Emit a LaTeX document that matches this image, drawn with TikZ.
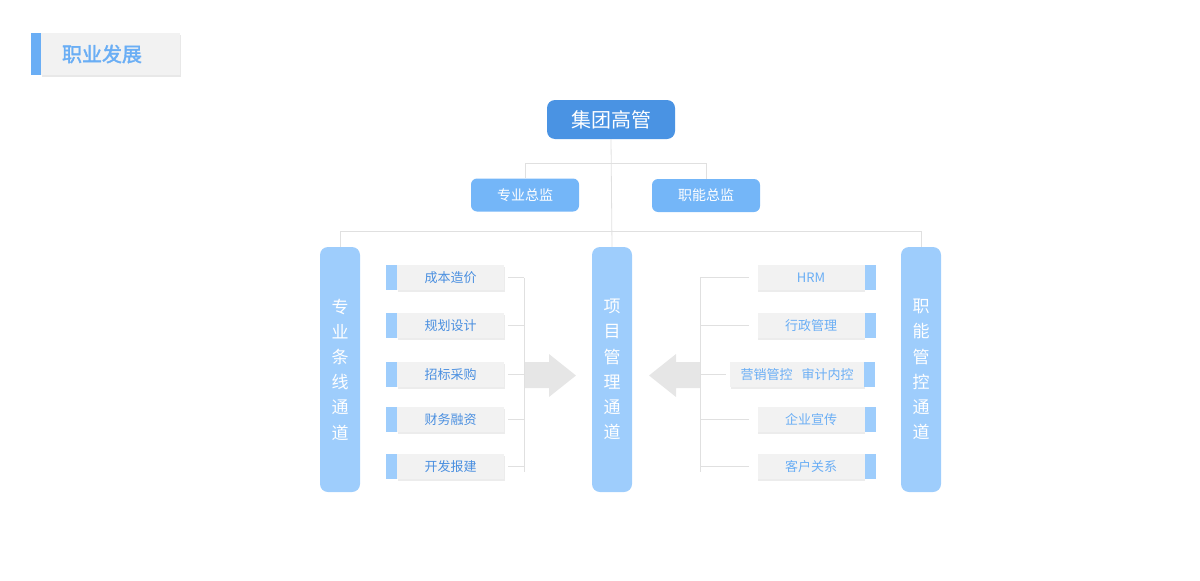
\documentclass[tikz,border=0pt]{standalone}
\usepackage{fontspec}
\newfontfamily\cjk{Noto Sans CJK SC}[AutoFakeBold=2]
\usetikzlibrary{positioning,shadows,calc}

\definecolor{bossblue}{HTML}{4A93E3}
\definecolor{headblue}{HTML}{74B6F8}
\definecolor{barblue}{HTML}{9ECDFC}
\definecolor{tabblue}{HTML}{9ECDFC}
\definecolor{titleblue}{HTML}{6AAEF5}
\definecolor{boxgray}{HTML}{F2F2F2}
\definecolor{linegray}{HTML}{E0E0E0}
\definecolor{arrowgray}{HTML}{E6E6E6}
\definecolor{ltext}{HTML}{4A8FE0}
\definecolor{rtext}{HTML}{6AAEF5}

\tikzset{
  boss/.style={fill=bossblue,rounded corners=8pt,minimum width=128pt,minimum height=39pt,
    text=white,font=\cjk\fontsize{20}{24}\selectfont},
  head/.style={fill=headblue,rounded corners=6pt,minimum width=108pt,minimum height=33pt,
    text=white,font=\cjk\fontsize{14}{17}\selectfont},
  lane/.style={fill=barblue,rounded corners=8pt,minimum width=40pt,minimum height=245pt,
    text=white,align=center,font=\cjk\fontsize{17}{25.2}\selectfont},
  itembox/.style={fill=boxgray,minimum width=107pt,minimum height=25pt,inner sep=0pt,
    drop shadow={shadow xshift=0.5pt,shadow yshift=-1.5pt,opacity=.15},
    font=\cjk\fontsize{13}{16}\selectfont},
  itemtab/.style={fill=tabblue,minimum width=11pt,minimum height=25pt,inner sep=0pt},
  link/.style={draw=linegray,line width=0.8pt},
  bigarrow/.style={fill=arrowgray}
}

\begin{document}
\begin{tikzpicture}[x=1pt,y=-1pt]
\useasboundingbox (0,0) rectangle (1200,581);

% title
\node[fill=boxgray,minimum width=139pt,minimum height=42pt,anchor=north west,
  drop shadow={shadow xshift=1pt,shadow yshift=-2pt,opacity=.18}] (title) at (41,33) {};
\node[fill=titleblue,minimum width=10pt,minimum height=42pt,inner sep=0pt,left=0pt of title] (titletab) {};
\node[text=titleblue,font=\cjk\bfseries\fontsize{20}{24}\selectfont] (titletext) at (102,54) {职业发展};

% top
\node[boss] (boss) at (611,119.5) {集团高管};
\node[head] (dir1) at (525,195) {专业总监};
\node[head] (dir2) at (706,195.5) {职能总监};

% channels
\node[lane] (lbar) at (340,369.5) {专\\业\\条\\线\\通\\道};
\node[lane] (mbar) at (612,369.5) {项\\目\\管\\理\\通\\道};
\node[lane] (rbar) at (921,369.5) {职\\能\\管\\控\\通\\道};

\coordinate (fork) at (611,163);
\coordinate (bus) at (611,231);

\draw[link] (boss.south) -- (mbar.north);
\draw[link] (dir1.north) -- (dir1.north |- fork) -- (dir2.north |- fork) -- (dir2.north);
\draw[link] (lbar.north) -- (lbar.north |- bus) -- (rbar.north |- bus) -- (rbar.north);

% left items
\foreach \n/\y/\t in {1/277.5/成本造价,2/325.5/规划设计,3/374.5/招标采购,4/419.5/财务融资,5/466.5/开发报建}{
  \node[itembox,text=ltext] (l\n) at (450.5,\y) {\t};
  \node[itemtab,left=0pt of l\n] (lt\n) {};
  \draw[link] ([xshift=4pt]l\n.east) -- (524,\y);
}
\draw[link] (524,277.5) -- (524,472);

% right items
\foreach \n/\y/\t in {1/277.5/HRM,2/325.5/行政管理,4/419.5/企业宣传,5/466.5/客户关系}{
  \node[itembox,text=rtext] (r\n) at (811,\y) {\t};
  \node[itemtab,right=0pt of r\n] (rt\n) {};
  \draw[link] ([xshift=-8pt]r\n.west) -- (700,\y);
}
\node[itembox,text=rtext,minimum width=134pt] (r3) at (797,374.5) {营销管控\hspace{9pt}审计内控};
\node[itemtab,right=0pt of r3] (rt3) {};
\draw[link] ([xshift=-4pt]r3.west) -- (700,374.5);
\draw[link] (700,277.5) -- (700,472);

% arrows
\fill[bigarrow] (525,362) -- (549,362) -- (549,354) -- (576,375.5) -- (549,397) -- (549,388) -- (525,388) -- cycle;
\fill[bigarrow] (700,362) -- (676,362) -- (676,354) -- (649,375.5) -- (676,397) -- (676,388) -- (700,388) -- cycle;
\end{tikzpicture}
\end{document}
